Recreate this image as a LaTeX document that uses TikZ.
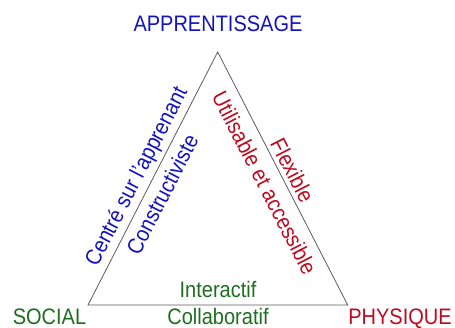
\documentclass[tikz,border=0pt]{standalone}
\usepackage{fontspec}
\setmainfont{Liberation Sans}
\definecolor{tblue}{RGB}{20,20,190}
\definecolor{tgreen}{RGB}{30,110,30}
\definecolor{tred}{RGB}{190,10,30}
\definecolor{tline}{RGB}{90,90,90}
\newcommand{\lbl}[1]{\scalebox{1}[1.12]{#1}}
\tikzset{
  txt/.style={inner sep=0pt, font=\fontsize{20}{22}\selectfont},
  edge/.style={draw=tline, line width=0.8pt}
}
\begin{document}
\begin{tikzpicture}[x=1pt,y=1pt]
\useasboundingbox (0,0) rectangle (455,327);
\coordinate (A) at (217.7,275);
\coordinate (S) at (88,22);
\coordinate (P) at (347.7,22);
\draw[edge] (A) -- (S) -- (P) -- cycle;
\node[txt, text=tblue, anchor=base] (ta) at (218,295) {\lbl{APPRENTISSAGE}};
\node[txt, text=tgreen, anchor=base] (ts) at (49.5,2.5) {\lbl{SOCIAL}};
\node[txt, text=tred, anchor=base] (tp) at (400,2.5) {\lbl{PHYSIQUE}};
\node[txt, text=tgreen, anchor=base] (tc) at (218,2.5) {\lbl{Collaboratif}};
\node[txt, text=tgreen, anchor=base] (ti) at (218,30) {\lbl{Interactif}};
\path (S) -- (A)
  node[txt, text=tblue, sloped, pos=0.48, yshift=14.5pt] (l1) {\lbl{Centré sur l'apprenant}}
  node[txt, text=tblue, sloped, pos=0.465, yshift=-15.5pt] (l2) {\lbl{Constructiviste}};
\path (A) -- (P)
  node[txt, text=tred, sloped, pos=0.49, yshift=12.5pt] (r1) {\lbl{Flexible}}
  node[txt, text=tred, sloped, pos=0.485, yshift=-18pt] (r2) {\lbl{Utilisable et accessible}};
\end{tikzpicture}
\end{document}
